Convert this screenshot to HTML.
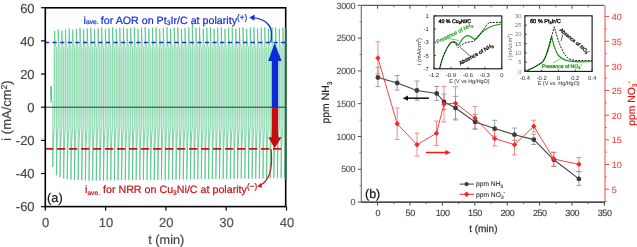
<!DOCTYPE html>
<html><head><meta charset="utf-8"><style>
html,body{margin:0;padding:0;background:#fff;}
svg{display:block;font-family:"Liberation Sans", sans-serif;will-change:transform;text-rendering:geometricPrecision;}
</style></head><body>
<svg width="637" height="247" viewBox="0 0 637 247">
<rect width="637" height="247" fill="#fff"/>
<defs><linearGradient id="bandg" gradientUnits="userSpaceOnUse" x1="0" y1="41.71" x2="0" y2="142.02"><stop offset="0" stop-color="#d6f4e4" stop-opacity="0.2"/><stop offset="0.107" stop-color="#d6f4e4"/><stop offset="0.686" stop-color="#d6f4e4"/><stop offset="1" stop-color="#d6f4e4" stop-opacity="0"/></linearGradient></defs>
<rect x="53" y="41.71" width="232.5" height="100.31" fill="url(#bandg)"/>
<defs><linearGradient id="mg" gradientUnits="userSpaceOnUse" x1="0" y1="0" x2="0" y2="247"><stop offset="0.0000" stop-color="#fff"/><stop offset="0.1655" stop-color="#fff"/><stop offset="0.1991" stop-color="#000"/><stop offset="0.4609" stop-color="#000"/><stop offset="0.5481" stop-color="#fff"/><stop offset="1.0000" stop-color="#fff"/></linearGradient><linearGradient id="mgi" gradientUnits="userSpaceOnUse" x1="0" y1="0" x2="0" y2="247"><stop offset="0.0000" stop-color="#000"/><stop offset="0.1655" stop-color="#000"/><stop offset="0.1991" stop-color="#fff"/><stop offset="0.4609" stop-color="#fff"/><stop offset="0.5481" stop-color="#000"/><stop offset="1.0000" stop-color="#000"/></linearGradient><mask id="mout" maskUnits="userSpaceOnUse" x="0" y="0" width="637" height="247"><rect width="637" height="247" fill="url(#mg)"/></mask><mask id="min" maskUnits="userSpaceOnUse" x="0" y="0" width="637" height="247"><rect width="637" height="247" fill="url(#mgi)"/></mask></defs>
<path d="M51.0,101.40 L51.0,86.48 L51.5,97.25 L52.2,101.40 L52.79,103.06 L52.79,167.05 L53.09,152.75 L53.39,142.84 L53.69,135.97 L54.00,131.21 L54.30,127.91 L54.60,125.63 L54.60,30.93 L54.90,39.68 L55.20,43.81 L55.51,45.76 L55.81,46.69 L56.11,47.12 L56.41,47.33 L56.41,175.34 L56.71,158.50 L57.02,146.82 L57.32,138.73 L57.62,133.12 L57.92,129.24 L58.22,126.54 L58.22,29.68 L58.53,39.09 L58.83,43.53 L59.13,45.63 L59.43,46.62 L59.73,47.09 L60.04,47.31 L60.04,177.09 L60.34,159.71 L60.64,147.66 L60.94,139.31 L61.24,133.53 L61.55,129.52 L61.85,126.74 L61.85,30.67 L62.15,39.56 L62.45,43.75 L62.75,45.74 L63.06,46.67 L63.36,47.12 L63.66,47.32 L63.66,178.27 L63.96,160.52 L64.26,148.23 L64.57,139.70 L64.87,133.80 L65.17,129.71 L65.47,126.87 L65.47,29.57 L65.77,39.04 L66.08,43.51 L66.38,45.62 L66.68,46.62 L66.98,47.09 L67.28,47.31 L67.28,179.05 L67.59,161.07 L67.89,148.60 L68.19,139.97 L68.49,133.98 L68.79,129.83 L69.10,126.96 L69.10,28.58 L69.40,38.57 L69.70,43.29 L70.00,45.52 L70.30,46.57 L70.61,47.07 L70.91,47.30 L70.91,179.58 L71.21,161.43 L71.51,148.86 L71.81,140.14 L72.12,134.10 L72.42,129.92 L72.72,127.01 L72.72,29.77 L73.02,39.13 L73.32,43.55 L73.63,45.64 L73.93,46.63 L74.23,47.09 L74.53,47.31 L74.53,179.93 L74.83,161.68 L75.14,149.03 L75.44,140.26 L75.74,134.18 L76.04,129.97 L76.34,127.05 L76.34,28.82 L76.65,38.68 L76.95,43.34 L77.25,45.54 L77.55,46.58 L77.85,47.07 L78.16,47.30 L78.16,180.17 L78.46,161.84 L78.76,149.14 L79.06,140.34 L79.36,134.24 L79.67,130.01 L79.97,127.08 L79.97,27.98 L80.27,38.29 L80.57,43.15 L80.87,45.45 L81.18,46.54 L81.48,47.05 L81.78,47.30 L81.78,180.33 L82.08,161.95 L82.38,149.22 L82.69,140.39 L82.99,134.27 L83.29,130.03 L83.59,127.10 L83.59,29.29 L83.89,38.90 L84.20,43.45 L84.50,45.59 L84.80,46.60 L85.10,47.08 L85.40,47.31 L85.40,180.43 L85.71,162.03 L86.01,149.27 L86.31,140.43 L86.61,134.30 L86.91,130.05 L87.22,127.11 L87.22,28.40 L87.52,38.48 L87.82,43.25 L88.12,45.50 L88.42,46.56 L88.73,47.06 L89.03,47.30 L89.03,180.50 L89.33,162.07 L89.63,149.30 L89.93,140.45 L90.24,134.31 L90.54,130.06 L90.84,127.12 L90.84,27.66 L91.14,38.13 L91.44,43.08 L91.75,45.42 L92.05,46.52 L92.35,47.05 L92.65,47.29 L92.65,180.52 L92.95,162.08 L93.26,149.31 L93.56,140.45 L93.86,134.32 L94.16,130.07 L94.46,127.12 L94.46,29.02 L94.77,38.78 L95.07,43.39 L95.37,45.56 L95.67,46.59 L95.97,47.08 L96.28,47.31 L96.28,180.50 L96.58,162.07 L96.88,149.30 L97.18,140.45 L97.48,134.31 L97.79,130.06 L98.09,127.12 L98.09,28.16 L98.39,38.37 L98.69,43.19 L98.99,45.47 L99.30,46.55 L99.60,47.06 L99.90,47.30 L99.90,180.48 L100.20,162.06 L100.50,149.29 L100.81,140.44 L101.11,134.31 L101.41,130.06 L101.71,127.11 L101.71,27.48 L102.01,38.05 L102.32,43.04 L102.62,45.40 L102.92,46.51 L103.22,47.04 L103.52,47.29 L103.52,180.45 L103.83,162.03 L104.13,149.27 L104.43,140.43 L104.73,134.30 L105.03,130.05 L105.34,127.11 L105.34,28.88 L105.64,38.71 L105.94,43.35 L106.24,45.55 L106.54,46.58 L106.85,47.07 L107.15,47.30 L107.15,180.41 L107.45,162.01 L107.75,149.26 L108.05,140.42 L108.36,134.29 L108.66,130.05 L108.96,127.11 L108.96,28.03 L109.26,38.31 L109.56,43.16 L109.87,45.46 L110.17,46.54 L110.47,47.05 L110.77,47.30 L110.77,180.37 L111.07,161.98 L111.38,149.24 L111.68,140.40 L111.98,134.28 L112.28,130.04 L112.58,127.10 L112.58,27.39 L112.89,38.01 L113.19,43.02 L113.49,45.39 L113.79,46.51 L114.09,47.04 L114.40,47.29 L114.40,180.33 L114.70,161.95 L115.00,149.22 L115.30,140.39 L115.60,134.27 L115.91,130.03 L116.21,127.10 L116.21,28.80 L116.51,38.67 L116.81,43.34 L117.11,45.54 L117.42,46.58 L117.72,47.07 L118.02,47.30 L118.02,180.28 L118.32,161.92 L118.62,149.19 L118.93,140.38 L119.23,134.26 L119.53,130.03 L119.83,127.09 L119.83,27.95 L120.13,38.27 L120.44,43.15 L120.74,45.45 L121.04,46.54 L121.34,47.05 L121.64,47.29 L121.64,180.24 L121.95,161.89 L122.25,149.17 L122.55,140.36 L122.85,134.25 L123.15,130.02 L123.46,127.09 L123.46,27.34 L123.76,37.99 L124.06,43.01 L124.36,45.39 L124.66,46.51 L124.97,47.04 L125.27,47.29 L125.27,180.19 L125.57,161.86 L125.87,149.15 L126.17,140.35 L126.48,134.24 L126.78,130.01 L127.08,127.08 L127.08,28.76 L127.38,38.66 L127.68,43.33 L127.99,45.54 L128.29,46.58 L128.59,47.07 L128.89,47.30 L128.89,180.14 L129.19,161.83 L129.50,149.13 L129.80,140.33 L130.10,134.23 L130.40,130.01 L130.70,127.08 L130.70,27.90 L131.01,38.25 L131.31,43.13 L131.61,45.44 L131.91,46.54 L132.21,47.05 L132.52,47.29 L132.52,180.10 L132.82,161.79 L133.12,149.11 L133.42,140.31 L133.72,134.22 L134.03,130.00 L134.33,127.07 L134.33,27.32 L134.63,37.98 L134.93,43.01 L135.23,45.38 L135.54,46.51 L135.84,47.04 L136.14,47.29 L136.14,180.05 L136.44,161.76 L136.74,149.08 L137.05,140.30 L137.35,134.21 L137.65,129.99 L137.95,127.07 L137.95,28.74 L138.25,38.65 L138.56,43.32 L138.86,45.53 L139.16,46.58 L139.46,47.07 L139.76,47.30 L139.76,180.01 L140.07,161.73 L140.37,149.06 L140.67,140.28 L140.97,134.20 L141.27,129.98 L141.58,127.06 L141.58,27.86 L141.88,38.23 L142.18,43.13 L142.48,45.44 L142.78,46.53 L143.09,47.05 L143.39,47.29 L143.39,179.96 L143.69,161.70 L143.99,149.04 L144.29,140.27 L144.60,134.19 L144.90,129.98 L145.20,127.06 L145.20,27.31 L145.50,37.97 L145.80,43.01 L146.11,45.38 L146.41,46.51 L146.71,47.04 L147.01,47.29 L147.01,179.91 L147.31,161.66 L147.62,149.02 L147.92,140.25 L148.22,134.18 L148.52,129.97 L148.82,127.05 L148.82,28.73 L149.13,38.64 L149.43,43.32 L149.73,45.53 L150.03,46.58 L150.33,47.07 L150.64,47.30 L150.64,179.87 L150.94,161.63 L151.24,148.99 L151.54,140.24 L151.84,134.17 L152.15,129.96 L152.45,127.05 L152.45,27.84 L152.75,38.22 L153.05,43.12 L153.35,45.44 L153.66,46.53 L153.96,47.05 L154.26,47.29 L154.26,179.82 L154.56,161.60 L154.86,148.97 L155.17,140.22 L155.47,134.16 L155.77,129.95 L156.07,127.04 L156.07,27.31 L156.37,37.97 L156.68,43.01 L156.98,45.38 L157.28,46.51 L157.58,47.04 L157.88,47.29 L157.88,179.77 L158.19,161.57 L158.49,148.95 L158.79,140.21 L159.09,134.15 L159.39,129.95 L159.70,127.04 L159.70,28.73 L160.00,38.64 L160.30,43.32 L160.60,45.53 L160.90,46.58 L161.21,47.07 L161.51,47.30 L161.51,179.72 L161.81,161.53 L162.11,148.93 L162.41,140.19 L162.72,134.14 L163.02,129.94 L163.32,127.03 L163.32,27.82 L163.62,38.21 L163.92,43.12 L164.23,45.44 L164.53,46.53 L164.83,47.05 L165.13,47.29 L165.13,179.68 L165.43,161.50 L165.74,148.90 L166.04,140.17 L166.34,134.12 L166.64,129.93 L166.94,127.03 L166.94,27.32 L167.25,37.97 L167.55,43.01 L167.85,45.38 L168.15,46.51 L168.45,47.04 L168.76,47.29 L168.76,179.63 L169.06,161.47 L169.36,148.88 L169.66,140.16 L169.96,134.11 L170.27,129.92 L170.57,127.02 L170.57,28.73 L170.87,38.64 L171.17,43.32 L171.47,45.53 L171.78,46.58 L172.08,47.07 L172.38,47.30 L172.38,179.58 L172.68,161.44 L172.98,148.86 L173.29,140.14 L173.59,134.10 L173.89,129.92 L174.19,127.01 L174.19,27.80 L174.49,38.20 L174.80,43.11 L175.10,45.43 L175.40,46.53 L175.70,47.05 L176.00,47.29 L176.00,179.54 L176.31,161.40 L176.61,148.84 L176.91,140.13 L177.21,134.09 L177.51,129.91 L177.82,127.01 L177.82,27.32 L178.12,37.98 L178.42,43.01 L178.72,45.38 L179.02,46.51 L179.33,47.04 L179.63,47.29 L179.63,179.49 L179.93,161.37 L180.23,148.81 L180.53,140.11 L180.84,134.08 L181.14,129.90 L181.44,127.00 L181.44,28.74 L181.74,38.64 L182.04,43.32 L182.35,45.53 L182.65,46.58 L182.95,47.07 L183.25,47.30 L183.25,179.44 L183.55,161.34 L183.86,148.79 L184.16,140.10 L184.46,134.07 L184.76,129.89 L185.06,127.00 L185.06,27.78 L185.37,38.19 L185.67,43.11 L185.97,45.43 L186.27,46.53 L186.57,47.05 L186.88,47.29 L186.88,179.40 L187.18,161.31 L187.48,148.77 L187.78,140.08 L188.08,134.06 L188.39,129.89 L188.69,126.99 L188.69,27.33 L188.99,37.98 L189.29,43.01 L189.59,45.39 L189.90,46.51 L190.20,47.04 L190.50,47.29 L190.50,179.35 L190.80,161.27 L191.10,148.75 L191.41,140.07 L191.71,134.05 L192.01,129.88 L192.31,126.99 L192.31,22.97 L192.61,35.92 L192.92,42.04 L193.22,44.93 L193.52,46.29 L193.82,46.93 L194.12,47.24 L194.12,179.30 L194.43,161.24 L194.73,148.72 L195.03,140.05 L195.33,134.04 L195.63,129.87 L195.94,126.98 L195.94,27.77 L196.24,38.19 L196.54,43.11 L196.84,45.43 L197.14,46.53 L197.45,47.05 L197.75,47.29 L197.75,179.26 L198.05,161.21 L198.35,148.70 L198.65,140.03 L198.96,134.03 L199.26,129.86 L199.56,126.98 L199.56,27.34 L199.86,37.98 L200.16,43.01 L200.47,45.39 L200.77,46.51 L201.07,47.04 L201.37,47.29 L201.37,179.21 L201.67,161.18 L201.98,148.68 L202.28,140.02 L202.58,134.02 L202.88,129.86 L203.18,126.97 L203.18,28.74 L203.49,38.65 L203.79,43.32 L204.09,45.53 L204.39,46.58 L204.69,47.07 L205.00,47.30 L205.00,179.16 L205.30,161.14 L205.60,148.66 L205.90,140.00 L206.20,134.01 L206.51,129.85 L206.81,126.97 L206.81,27.75 L207.11,38.18 L207.41,43.10 L207.71,45.43 L208.02,46.53 L208.32,47.05 L208.62,47.29 L208.62,179.12 L208.92,161.11 L209.22,148.63 L209.53,139.99 L209.83,133.99 L210.13,129.84 L210.43,126.96 L210.43,27.35 L210.73,37.99 L211.04,43.01 L211.34,45.39 L211.64,46.51 L211.94,47.04 L212.24,47.29 L212.24,179.07 L212.55,161.08 L212.85,148.61 L213.15,139.97 L213.45,133.98 L213.75,129.83 L214.06,126.96 L214.06,28.75 L214.36,38.65 L214.66,43.32 L214.96,45.53 L215.26,46.58 L215.57,47.07 L215.87,47.30 L215.87,179.02 L216.17,161.05 L216.47,148.59 L216.77,139.96 L217.08,133.97 L217.38,129.83 L217.68,126.95 L217.68,27.74 L217.98,38.17 L218.28,43.10 L218.59,45.43 L218.89,46.53 L219.19,47.05 L219.49,47.29 L219.49,178.97 L219.79,161.01 L220.10,148.57 L220.40,139.94 L220.70,133.96 L221.00,129.82 L221.30,126.95 L221.30,27.36 L221.61,37.99 L221.91,43.02 L222.21,45.39 L222.51,46.51 L222.81,47.04 L223.12,47.29 L223.12,178.93 L223.42,160.98 L223.72,148.54 L224.02,139.92 L224.32,133.95 L224.63,129.81 L224.93,126.94 L224.93,28.75 L225.23,38.65 L225.53,43.33 L225.83,45.53 L226.14,46.58 L226.44,47.07 L226.74,47.30 L226.74,178.88 L227.04,160.95 L227.34,148.52 L227.65,139.91 L227.95,133.94 L228.25,129.80 L228.55,126.94 L228.55,27.73 L228.85,38.17 L229.16,43.10 L229.46,45.43 L229.76,46.53 L230.06,47.05 L230.36,47.29 L230.36,178.83 L230.67,160.92 L230.97,148.50 L231.27,139.89 L231.57,133.93 L231.87,129.80 L232.18,126.93 L232.18,27.37 L232.48,38.00 L232.78,43.02 L233.08,45.39 L233.38,46.51 L233.69,47.04 L233.99,47.29 L233.99,178.79 L234.29,160.88 L234.59,148.48 L234.89,139.88 L235.20,133.92 L235.50,129.79 L235.80,126.93 L235.80,28.75 L236.10,38.65 L236.40,43.33 L236.71,45.53 L237.01,46.58 L237.31,47.07 L237.61,47.30 L237.61,178.74 L237.91,160.85 L238.22,148.45 L238.52,139.86 L238.82,133.91 L239.12,129.78 L239.42,126.92 L239.42,27.71 L239.73,38.16 L240.03,43.09 L240.33,45.43 L240.63,46.53 L240.93,47.05 L241.24,47.29 L241.24,178.69 L241.54,160.82 L241.84,148.43 L242.14,139.85 L242.44,133.90 L242.75,129.77 L243.05,126.92 L243.05,27.38 L243.35,38.00 L243.65,43.02 L243.95,45.39 L244.26,46.51 L244.56,47.04 L244.86,47.29 L244.86,178.65 L245.16,160.79 L245.46,148.41 L245.77,139.83 L246.07,133.89 L246.37,129.77 L246.67,126.91 L246.67,28.76 L246.97,38.65 L247.28,43.33 L247.58,45.54 L247.88,46.58 L248.18,47.07 L248.48,47.30 L248.48,178.60 L248.79,160.75 L249.09,148.39 L249.39,139.82 L249.69,133.88 L249.99,129.76 L250.30,126.91 L250.30,27.70 L250.60,38.15 L250.90,43.09 L251.20,45.42 L251.50,46.53 L251.81,47.05 L252.11,47.29 L252.11,178.55 L252.41,160.72 L252.71,148.36 L253.01,139.80 L253.32,133.86 L253.62,129.75 L253.92,126.90 L253.92,27.39 L254.22,38.01 L254.52,43.02 L254.83,45.39 L255.13,46.51 L255.43,47.04 L255.73,47.29 L255.73,178.51 L256.03,160.69 L256.34,148.34 L256.64,139.78 L256.94,133.85 L257.24,129.74 L257.54,126.90 L257.54,28.76 L257.85,38.65 L258.15,43.33 L258.45,45.54 L258.75,46.58 L259.05,47.07 L259.36,47.30 L259.36,178.46 L259.66,160.66 L259.96,148.32 L260.26,139.77 L260.56,133.84 L260.87,129.74 L261.17,126.89 L261.17,27.69 L261.47,38.15 L261.77,43.09 L262.07,45.42 L262.38,46.52 L262.68,47.05 L262.98,47.29 L262.98,178.41 L263.28,160.62 L263.58,148.30 L263.89,139.75 L264.19,133.83 L264.49,129.73 L264.79,126.88 L264.79,27.40 L265.09,38.01 L265.40,43.02 L265.70,45.39 L266.00,46.51 L266.30,47.04 L266.60,47.29 L266.60,178.37 L266.91,160.59 L267.21,148.27 L267.51,139.74 L267.81,133.82 L268.11,129.72 L268.42,126.88 L268.42,28.76 L268.72,38.65 L269.02,43.33 L269.32,45.54 L269.62,46.58 L269.93,47.07 L270.23,47.30 L270.23,178.32 L270.53,160.56 L270.83,148.25 L271.13,139.72 L271.44,133.81 L271.74,129.71 L272.04,126.87 L272.04,27.67 L272.34,38.14 L272.64,43.09 L272.95,45.42 L273.25,46.52 L273.55,47.05 L273.85,47.29 L273.85,178.27 L274.15,160.53 L274.46,148.23 L274.76,139.71 L275.06,133.80 L275.36,129.71 L275.66,126.87 L275.66,27.41 L275.97,38.02 L276.27,43.03 L276.57,45.39 L276.87,46.51 L277.17,47.04 L277.48,47.29 L277.48,178.22 L277.78,160.49 L278.08,148.21 L278.38,139.69 L278.68,133.79 L278.99,129.70 L279.29,126.86 L279.29,28.76 L279.59,38.66 L279.89,43.33 L280.19,45.54 L280.50,46.58 L280.80,47.07 L281.10,47.30 L281.10,178.18 L281.40,160.46 L281.70,148.18 L282.01,139.68 L282.31,133.78 L282.61,129.69 L282.91,126.86 L282.91,27.66 L283.21,38.14 L283.52,43.08 L283.82,45.42 L284.12,46.52 L284.42,47.05 L284.72,47.29 L284.72,178.13 L285.03,160.43 L285.33,148.16 L285.50,139.66 L285.50,133.77 L285.50,129.68 L285.50,126.85" fill="none" stroke="#2fb56c" stroke-width="0.6" stroke-opacity="0.8" mask="url(#min)"/>
<path d="M51.0,101.40 L51.0,86.48 L51.5,97.25 L52.2,101.40 L52.79,103.06 L52.79,167.05 L53.09,152.75 L53.39,142.84 L53.69,135.97 L54.00,131.21 L54.30,127.91 L54.60,125.63 L54.60,30.93 L54.90,39.68 L55.20,43.81 L55.51,45.76 L55.81,46.69 L56.11,47.12 L56.41,47.33 L56.41,175.34 L56.71,158.50 L57.02,146.82 L57.32,138.73 L57.62,133.12 L57.92,129.24 L58.22,126.54 L58.22,29.68 L58.53,39.09 L58.83,43.53 L59.13,45.63 L59.43,46.62 L59.73,47.09 L60.04,47.31 L60.04,177.09 L60.34,159.71 L60.64,147.66 L60.94,139.31 L61.24,133.53 L61.55,129.52 L61.85,126.74 L61.85,30.67 L62.15,39.56 L62.45,43.75 L62.75,45.74 L63.06,46.67 L63.36,47.12 L63.66,47.32 L63.66,178.27 L63.96,160.52 L64.26,148.23 L64.57,139.70 L64.87,133.80 L65.17,129.71 L65.47,126.87 L65.47,29.57 L65.77,39.04 L66.08,43.51 L66.38,45.62 L66.68,46.62 L66.98,47.09 L67.28,47.31 L67.28,179.05 L67.59,161.07 L67.89,148.60 L68.19,139.97 L68.49,133.98 L68.79,129.83 L69.10,126.96 L69.10,28.58 L69.40,38.57 L69.70,43.29 L70.00,45.52 L70.30,46.57 L70.61,47.07 L70.91,47.30 L70.91,179.58 L71.21,161.43 L71.51,148.86 L71.81,140.14 L72.12,134.10 L72.42,129.92 L72.72,127.01 L72.72,29.77 L73.02,39.13 L73.32,43.55 L73.63,45.64 L73.93,46.63 L74.23,47.09 L74.53,47.31 L74.53,179.93 L74.83,161.68 L75.14,149.03 L75.44,140.26 L75.74,134.18 L76.04,129.97 L76.34,127.05 L76.34,28.82 L76.65,38.68 L76.95,43.34 L77.25,45.54 L77.55,46.58 L77.85,47.07 L78.16,47.30 L78.16,180.17 L78.46,161.84 L78.76,149.14 L79.06,140.34 L79.36,134.24 L79.67,130.01 L79.97,127.08 L79.97,27.98 L80.27,38.29 L80.57,43.15 L80.87,45.45 L81.18,46.54 L81.48,47.05 L81.78,47.30 L81.78,180.33 L82.08,161.95 L82.38,149.22 L82.69,140.39 L82.99,134.27 L83.29,130.03 L83.59,127.10 L83.59,29.29 L83.89,38.90 L84.20,43.45 L84.50,45.59 L84.80,46.60 L85.10,47.08 L85.40,47.31 L85.40,180.43 L85.71,162.03 L86.01,149.27 L86.31,140.43 L86.61,134.30 L86.91,130.05 L87.22,127.11 L87.22,28.40 L87.52,38.48 L87.82,43.25 L88.12,45.50 L88.42,46.56 L88.73,47.06 L89.03,47.30 L89.03,180.50 L89.33,162.07 L89.63,149.30 L89.93,140.45 L90.24,134.31 L90.54,130.06 L90.84,127.12 L90.84,27.66 L91.14,38.13 L91.44,43.08 L91.75,45.42 L92.05,46.52 L92.35,47.05 L92.65,47.29 L92.65,180.52 L92.95,162.08 L93.26,149.31 L93.56,140.45 L93.86,134.32 L94.16,130.07 L94.46,127.12 L94.46,29.02 L94.77,38.78 L95.07,43.39 L95.37,45.56 L95.67,46.59 L95.97,47.08 L96.28,47.31 L96.28,180.50 L96.58,162.07 L96.88,149.30 L97.18,140.45 L97.48,134.31 L97.79,130.06 L98.09,127.12 L98.09,28.16 L98.39,38.37 L98.69,43.19 L98.99,45.47 L99.30,46.55 L99.60,47.06 L99.90,47.30 L99.90,180.48 L100.20,162.06 L100.50,149.29 L100.81,140.44 L101.11,134.31 L101.41,130.06 L101.71,127.11 L101.71,27.48 L102.01,38.05 L102.32,43.04 L102.62,45.40 L102.92,46.51 L103.22,47.04 L103.52,47.29 L103.52,180.45 L103.83,162.03 L104.13,149.27 L104.43,140.43 L104.73,134.30 L105.03,130.05 L105.34,127.11 L105.34,28.88 L105.64,38.71 L105.94,43.35 L106.24,45.55 L106.54,46.58 L106.85,47.07 L107.15,47.30 L107.15,180.41 L107.45,162.01 L107.75,149.26 L108.05,140.42 L108.36,134.29 L108.66,130.05 L108.96,127.11 L108.96,28.03 L109.26,38.31 L109.56,43.16 L109.87,45.46 L110.17,46.54 L110.47,47.05 L110.77,47.30 L110.77,180.37 L111.07,161.98 L111.38,149.24 L111.68,140.40 L111.98,134.28 L112.28,130.04 L112.58,127.10 L112.58,27.39 L112.89,38.01 L113.19,43.02 L113.49,45.39 L113.79,46.51 L114.09,47.04 L114.40,47.29 L114.40,180.33 L114.70,161.95 L115.00,149.22 L115.30,140.39 L115.60,134.27 L115.91,130.03 L116.21,127.10 L116.21,28.80 L116.51,38.67 L116.81,43.34 L117.11,45.54 L117.42,46.58 L117.72,47.07 L118.02,47.30 L118.02,180.28 L118.32,161.92 L118.62,149.19 L118.93,140.38 L119.23,134.26 L119.53,130.03 L119.83,127.09 L119.83,27.95 L120.13,38.27 L120.44,43.15 L120.74,45.45 L121.04,46.54 L121.34,47.05 L121.64,47.29 L121.64,180.24 L121.95,161.89 L122.25,149.17 L122.55,140.36 L122.85,134.25 L123.15,130.02 L123.46,127.09 L123.46,27.34 L123.76,37.99 L124.06,43.01 L124.36,45.39 L124.66,46.51 L124.97,47.04 L125.27,47.29 L125.27,180.19 L125.57,161.86 L125.87,149.15 L126.17,140.35 L126.48,134.24 L126.78,130.01 L127.08,127.08 L127.08,28.76 L127.38,38.66 L127.68,43.33 L127.99,45.54 L128.29,46.58 L128.59,47.07 L128.89,47.30 L128.89,180.14 L129.19,161.83 L129.50,149.13 L129.80,140.33 L130.10,134.23 L130.40,130.01 L130.70,127.08 L130.70,27.90 L131.01,38.25 L131.31,43.13 L131.61,45.44 L131.91,46.54 L132.21,47.05 L132.52,47.29 L132.52,180.10 L132.82,161.79 L133.12,149.11 L133.42,140.31 L133.72,134.22 L134.03,130.00 L134.33,127.07 L134.33,27.32 L134.63,37.98 L134.93,43.01 L135.23,45.38 L135.54,46.51 L135.84,47.04 L136.14,47.29 L136.14,180.05 L136.44,161.76 L136.74,149.08 L137.05,140.30 L137.35,134.21 L137.65,129.99 L137.95,127.07 L137.95,28.74 L138.25,38.65 L138.56,43.32 L138.86,45.53 L139.16,46.58 L139.46,47.07 L139.76,47.30 L139.76,180.01 L140.07,161.73 L140.37,149.06 L140.67,140.28 L140.97,134.20 L141.27,129.98 L141.58,127.06 L141.58,27.86 L141.88,38.23 L142.18,43.13 L142.48,45.44 L142.78,46.53 L143.09,47.05 L143.39,47.29 L143.39,179.96 L143.69,161.70 L143.99,149.04 L144.29,140.27 L144.60,134.19 L144.90,129.98 L145.20,127.06 L145.20,27.31 L145.50,37.97 L145.80,43.01 L146.11,45.38 L146.41,46.51 L146.71,47.04 L147.01,47.29 L147.01,179.91 L147.31,161.66 L147.62,149.02 L147.92,140.25 L148.22,134.18 L148.52,129.97 L148.82,127.05 L148.82,28.73 L149.13,38.64 L149.43,43.32 L149.73,45.53 L150.03,46.58 L150.33,47.07 L150.64,47.30 L150.64,179.87 L150.94,161.63 L151.24,148.99 L151.54,140.24 L151.84,134.17 L152.15,129.96 L152.45,127.05 L152.45,27.84 L152.75,38.22 L153.05,43.12 L153.35,45.44 L153.66,46.53 L153.96,47.05 L154.26,47.29 L154.26,179.82 L154.56,161.60 L154.86,148.97 L155.17,140.22 L155.47,134.16 L155.77,129.95 L156.07,127.04 L156.07,27.31 L156.37,37.97 L156.68,43.01 L156.98,45.38 L157.28,46.51 L157.58,47.04 L157.88,47.29 L157.88,179.77 L158.19,161.57 L158.49,148.95 L158.79,140.21 L159.09,134.15 L159.39,129.95 L159.70,127.04 L159.70,28.73 L160.00,38.64 L160.30,43.32 L160.60,45.53 L160.90,46.58 L161.21,47.07 L161.51,47.30 L161.51,179.72 L161.81,161.53 L162.11,148.93 L162.41,140.19 L162.72,134.14 L163.02,129.94 L163.32,127.03 L163.32,27.82 L163.62,38.21 L163.92,43.12 L164.23,45.44 L164.53,46.53 L164.83,47.05 L165.13,47.29 L165.13,179.68 L165.43,161.50 L165.74,148.90 L166.04,140.17 L166.34,134.12 L166.64,129.93 L166.94,127.03 L166.94,27.32 L167.25,37.97 L167.55,43.01 L167.85,45.38 L168.15,46.51 L168.45,47.04 L168.76,47.29 L168.76,179.63 L169.06,161.47 L169.36,148.88 L169.66,140.16 L169.96,134.11 L170.27,129.92 L170.57,127.02 L170.57,28.73 L170.87,38.64 L171.17,43.32 L171.47,45.53 L171.78,46.58 L172.08,47.07 L172.38,47.30 L172.38,179.58 L172.68,161.44 L172.98,148.86 L173.29,140.14 L173.59,134.10 L173.89,129.92 L174.19,127.01 L174.19,27.80 L174.49,38.20 L174.80,43.11 L175.10,45.43 L175.40,46.53 L175.70,47.05 L176.00,47.29 L176.00,179.54 L176.31,161.40 L176.61,148.84 L176.91,140.13 L177.21,134.09 L177.51,129.91 L177.82,127.01 L177.82,27.32 L178.12,37.98 L178.42,43.01 L178.72,45.38 L179.02,46.51 L179.33,47.04 L179.63,47.29 L179.63,179.49 L179.93,161.37 L180.23,148.81 L180.53,140.11 L180.84,134.08 L181.14,129.90 L181.44,127.00 L181.44,28.74 L181.74,38.64 L182.04,43.32 L182.35,45.53 L182.65,46.58 L182.95,47.07 L183.25,47.30 L183.25,179.44 L183.55,161.34 L183.86,148.79 L184.16,140.10 L184.46,134.07 L184.76,129.89 L185.06,127.00 L185.06,27.78 L185.37,38.19 L185.67,43.11 L185.97,45.43 L186.27,46.53 L186.57,47.05 L186.88,47.29 L186.88,179.40 L187.18,161.31 L187.48,148.77 L187.78,140.08 L188.08,134.06 L188.39,129.89 L188.69,126.99 L188.69,27.33 L188.99,37.98 L189.29,43.01 L189.59,45.39 L189.90,46.51 L190.20,47.04 L190.50,47.29 L190.50,179.35 L190.80,161.27 L191.10,148.75 L191.41,140.07 L191.71,134.05 L192.01,129.88 L192.31,126.99 L192.31,22.97 L192.61,35.92 L192.92,42.04 L193.22,44.93 L193.52,46.29 L193.82,46.93 L194.12,47.24 L194.12,179.30 L194.43,161.24 L194.73,148.72 L195.03,140.05 L195.33,134.04 L195.63,129.87 L195.94,126.98 L195.94,27.77 L196.24,38.19 L196.54,43.11 L196.84,45.43 L197.14,46.53 L197.45,47.05 L197.75,47.29 L197.75,179.26 L198.05,161.21 L198.35,148.70 L198.65,140.03 L198.96,134.03 L199.26,129.86 L199.56,126.98 L199.56,27.34 L199.86,37.98 L200.16,43.01 L200.47,45.39 L200.77,46.51 L201.07,47.04 L201.37,47.29 L201.37,179.21 L201.67,161.18 L201.98,148.68 L202.28,140.02 L202.58,134.02 L202.88,129.86 L203.18,126.97 L203.18,28.74 L203.49,38.65 L203.79,43.32 L204.09,45.53 L204.39,46.58 L204.69,47.07 L205.00,47.30 L205.00,179.16 L205.30,161.14 L205.60,148.66 L205.90,140.00 L206.20,134.01 L206.51,129.85 L206.81,126.97 L206.81,27.75 L207.11,38.18 L207.41,43.10 L207.71,45.43 L208.02,46.53 L208.32,47.05 L208.62,47.29 L208.62,179.12 L208.92,161.11 L209.22,148.63 L209.53,139.99 L209.83,133.99 L210.13,129.84 L210.43,126.96 L210.43,27.35 L210.73,37.99 L211.04,43.01 L211.34,45.39 L211.64,46.51 L211.94,47.04 L212.24,47.29 L212.24,179.07 L212.55,161.08 L212.85,148.61 L213.15,139.97 L213.45,133.98 L213.75,129.83 L214.06,126.96 L214.06,28.75 L214.36,38.65 L214.66,43.32 L214.96,45.53 L215.26,46.58 L215.57,47.07 L215.87,47.30 L215.87,179.02 L216.17,161.05 L216.47,148.59 L216.77,139.96 L217.08,133.97 L217.38,129.83 L217.68,126.95 L217.68,27.74 L217.98,38.17 L218.28,43.10 L218.59,45.43 L218.89,46.53 L219.19,47.05 L219.49,47.29 L219.49,178.97 L219.79,161.01 L220.10,148.57 L220.40,139.94 L220.70,133.96 L221.00,129.82 L221.30,126.95 L221.30,27.36 L221.61,37.99 L221.91,43.02 L222.21,45.39 L222.51,46.51 L222.81,47.04 L223.12,47.29 L223.12,178.93 L223.42,160.98 L223.72,148.54 L224.02,139.92 L224.32,133.95 L224.63,129.81 L224.93,126.94 L224.93,28.75 L225.23,38.65 L225.53,43.33 L225.83,45.53 L226.14,46.58 L226.44,47.07 L226.74,47.30 L226.74,178.88 L227.04,160.95 L227.34,148.52 L227.65,139.91 L227.95,133.94 L228.25,129.80 L228.55,126.94 L228.55,27.73 L228.85,38.17 L229.16,43.10 L229.46,45.43 L229.76,46.53 L230.06,47.05 L230.36,47.29 L230.36,178.83 L230.67,160.92 L230.97,148.50 L231.27,139.89 L231.57,133.93 L231.87,129.80 L232.18,126.93 L232.18,27.37 L232.48,38.00 L232.78,43.02 L233.08,45.39 L233.38,46.51 L233.69,47.04 L233.99,47.29 L233.99,178.79 L234.29,160.88 L234.59,148.48 L234.89,139.88 L235.20,133.92 L235.50,129.79 L235.80,126.93 L235.80,28.75 L236.10,38.65 L236.40,43.33 L236.71,45.53 L237.01,46.58 L237.31,47.07 L237.61,47.30 L237.61,178.74 L237.91,160.85 L238.22,148.45 L238.52,139.86 L238.82,133.91 L239.12,129.78 L239.42,126.92 L239.42,27.71 L239.73,38.16 L240.03,43.09 L240.33,45.43 L240.63,46.53 L240.93,47.05 L241.24,47.29 L241.24,178.69 L241.54,160.82 L241.84,148.43 L242.14,139.85 L242.44,133.90 L242.75,129.77 L243.05,126.92 L243.05,27.38 L243.35,38.00 L243.65,43.02 L243.95,45.39 L244.26,46.51 L244.56,47.04 L244.86,47.29 L244.86,178.65 L245.16,160.79 L245.46,148.41 L245.77,139.83 L246.07,133.89 L246.37,129.77 L246.67,126.91 L246.67,28.76 L246.97,38.65 L247.28,43.33 L247.58,45.54 L247.88,46.58 L248.18,47.07 L248.48,47.30 L248.48,178.60 L248.79,160.75 L249.09,148.39 L249.39,139.82 L249.69,133.88 L249.99,129.76 L250.30,126.91 L250.30,27.70 L250.60,38.15 L250.90,43.09 L251.20,45.42 L251.50,46.53 L251.81,47.05 L252.11,47.29 L252.11,178.55 L252.41,160.72 L252.71,148.36 L253.01,139.80 L253.32,133.86 L253.62,129.75 L253.92,126.90 L253.92,27.39 L254.22,38.01 L254.52,43.02 L254.83,45.39 L255.13,46.51 L255.43,47.04 L255.73,47.29 L255.73,178.51 L256.03,160.69 L256.34,148.34 L256.64,139.78 L256.94,133.85 L257.24,129.74 L257.54,126.90 L257.54,28.76 L257.85,38.65 L258.15,43.33 L258.45,45.54 L258.75,46.58 L259.05,47.07 L259.36,47.30 L259.36,178.46 L259.66,160.66 L259.96,148.32 L260.26,139.77 L260.56,133.84 L260.87,129.74 L261.17,126.89 L261.17,27.69 L261.47,38.15 L261.77,43.09 L262.07,45.42 L262.38,46.52 L262.68,47.05 L262.98,47.29 L262.98,178.41 L263.28,160.62 L263.58,148.30 L263.89,139.75 L264.19,133.83 L264.49,129.73 L264.79,126.88 L264.79,27.40 L265.09,38.01 L265.40,43.02 L265.70,45.39 L266.00,46.51 L266.30,47.04 L266.60,47.29 L266.60,178.37 L266.91,160.59 L267.21,148.27 L267.51,139.74 L267.81,133.82 L268.11,129.72 L268.42,126.88 L268.42,28.76 L268.72,38.65 L269.02,43.33 L269.32,45.54 L269.62,46.58 L269.93,47.07 L270.23,47.30 L270.23,178.32 L270.53,160.56 L270.83,148.25 L271.13,139.72 L271.44,133.81 L271.74,129.71 L272.04,126.87 L272.04,27.67 L272.34,38.14 L272.64,43.09 L272.95,45.42 L273.25,46.52 L273.55,47.05 L273.85,47.29 L273.85,178.27 L274.15,160.53 L274.46,148.23 L274.76,139.71 L275.06,133.80 L275.36,129.71 L275.66,126.87 L275.66,27.41 L275.97,38.02 L276.27,43.03 L276.57,45.39 L276.87,46.51 L277.17,47.04 L277.48,47.29 L277.48,178.22 L277.78,160.49 L278.08,148.21 L278.38,139.69 L278.68,133.79 L278.99,129.70 L279.29,126.86 L279.29,28.76 L279.59,38.66 L279.89,43.33 L280.19,45.54 L280.50,46.58 L280.80,47.07 L281.10,47.30 L281.10,178.18 L281.40,160.46 L281.70,148.18 L282.01,139.68 L282.31,133.78 L282.61,129.69 L282.91,126.86 L282.91,27.66 L283.21,38.14 L283.52,43.08 L283.82,45.42 L284.12,46.52 L284.42,47.05 L284.72,47.29 L284.72,178.13 L285.03,160.43 L285.33,148.16 L285.50,139.66 L285.50,133.77 L285.50,129.68 L285.50,126.85" fill="none" stroke="#3cbf78" stroke-width="0.72" stroke-opacity="0.95" mask="url(#mout)"/>
<line x1="45.3" y1="107.2" x2="285.7" y2="107.2" stroke="#333" stroke-width="1"/>
<line x1="44.9" y1="42.5" x2="285.7" y2="42.5" stroke="#1533d0" stroke-width="1.6" stroke-dasharray="4.2 3.42"/>
<line x1="45.0" y1="148.8" x2="285.7" y2="148.8" stroke="#c8141e" stroke-width="1.7" stroke-dasharray="8.3 3.7"/>
<polygon points="271.8,108 278.2,108 278.2,61 281.6,61 274.6,42.9 268.3,61 271.8,61" fill="#0a2bd6"/>
<polygon points="271.8,107.5 278.2,107.5 278.2,137.3 281.6,137.3 274.6,148.2 268.3,137.3 271.8,137.3" fill="#c80d10"/>
<path d="M270.8,42.5 C271.8,36 272.2,30 269.5,26 C266,20.5 260,18.2 252.5,17.6" fill="none" stroke="#1533d0" stroke-width="1.4"/>
<polygon points="249.3,17.6 254.8,14.6 254.3,20.8" fill="#1533d0"/>
<path d="M271,149 C272.5,162 272,180 259,186" fill="none" stroke="#c8141e" stroke-width="1.2"/>
<polygon points="257.2,186.6 261,183 262,187.8" fill="#c8141e"/>
<rect x="45.3" y="7.8" width="240.39999999999998" height="198.79999999999998" fill="none" stroke="#000" stroke-width="1.6"/>
<line x1="285.7" y1="27.5" x2="285.7" y2="179.5" stroke="#1f7040" stroke-width="1.6"/>
<path d="M51.0,103.06 L51.0,86.48 L51.6,98.91" fill="none" stroke="#3cbf78" stroke-width="0.8"/>
<line x1="41" y1="206.68" x2="45.3" y2="206.68" stroke="#000" stroke-width="1.2"/>
<text x="34.6" y="211.48" text-anchor="end" font-size="13" fill="#4a4a4a" stroke="#4a4a4a" stroke-width="0.2">-60</text>
<line x1="41" y1="173.52" x2="45.3" y2="173.52" stroke="#000" stroke-width="1.2"/>
<text x="34.6" y="178.32" text-anchor="end" font-size="13" fill="#4a4a4a" stroke="#4a4a4a" stroke-width="0.2">-40</text>
<line x1="41" y1="140.36" x2="45.3" y2="140.36" stroke="#000" stroke-width="1.2"/>
<text x="34.6" y="145.16" text-anchor="end" font-size="13" fill="#4a4a4a" stroke="#4a4a4a" stroke-width="0.2">-20</text>
<line x1="41" y1="107.20" x2="45.3" y2="107.20" stroke="#000" stroke-width="1.2"/>
<text x="34.6" y="112.00" text-anchor="end" font-size="13" fill="#4a4a4a" stroke="#4a4a4a" stroke-width="0.2">0</text>
<line x1="41" y1="74.04" x2="45.3" y2="74.04" stroke="#000" stroke-width="1.2"/>
<text x="34.6" y="78.84" text-anchor="end" font-size="13" fill="#4a4a4a" stroke="#4a4a4a" stroke-width="0.2">20</text>
<line x1="41" y1="40.88" x2="45.3" y2="40.88" stroke="#000" stroke-width="1.2"/>
<text x="34.6" y="45.68" text-anchor="end" font-size="13" fill="#4a4a4a" stroke="#4a4a4a" stroke-width="0.2">40</text>
<line x1="41" y1="7.72" x2="45.3" y2="7.72" stroke="#000" stroke-width="1.2"/>
<text x="34.6" y="12.52" text-anchor="end" font-size="13" fill="#4a4a4a" stroke="#4a4a4a" stroke-width="0.2">60</text>
<line x1="45.30" y1="206.6" x2="45.30" y2="210.5" stroke="#000" stroke-width="1.2"/>
<text x="45.70" y="226.6" text-anchor="middle" font-size="13" fill="#555" stroke="#555" stroke-width="0.2">0</text>
<line x1="105.60" y1="206.6" x2="105.60" y2="210.5" stroke="#000" stroke-width="1.2"/>
<text x="106.00" y="226.6" text-anchor="middle" font-size="13" fill="#555" stroke="#555" stroke-width="0.2">10</text>
<line x1="165.90" y1="206.6" x2="165.90" y2="210.5" stroke="#000" stroke-width="1.2"/>
<text x="166.30" y="226.6" text-anchor="middle" font-size="13" fill="#555" stroke="#555" stroke-width="0.2">20</text>
<line x1="226.20" y1="206.6" x2="226.20" y2="210.5" stroke="#000" stroke-width="1.2"/>
<text x="226.60" y="226.6" text-anchor="middle" font-size="13" fill="#555" stroke="#555" stroke-width="0.2">30</text>
<line x1="286.50" y1="206.6" x2="286.50" y2="210.5" stroke="#000" stroke-width="1.2"/>
<text x="286.90" y="226.6" text-anchor="middle" font-size="13" fill="#555" stroke="#555" stroke-width="0.2">40</text>
<text x="166.3" y="243.5" text-anchor="middle" font-size="12.7" fill="#444" stroke="#444" stroke-width="0.2">t (min)</text>
<text transform="translate(11.2,110.5) rotate(-90)" text-anchor="middle" font-size="13" fill="#444" stroke="#444" stroke-width="0.2">i (mA/cm<tspan dy="-4" font-size="8.5">2</tspan><tspan dy="4">)</tspan></text>
<text x="47" y="201.5" font-size="12.8" fill="#111" stroke="#111" stroke-width="0.2">(a)</text>
<text x="83.6" y="23.5" font-size="10.7" fill="#1533d0" stroke="#1533d0" stroke-width="0.22">i<tspan font-size="6.7" dy="0.6">ave.</tspan><tspan dy="-0.6" dx="-0.8"> for AOR on Pt</tspan><tspan font-size="6.7" dy="1.5">3</tspan><tspan dy="-1.5">Ir/C at polarity</tspan><tspan font-size="8.2" dy="-3.8">(+)</tspan></text>
<text x="85.0" y="192.5" font-size="10.7" fill="#c8141e" stroke="#c8141e" stroke-width="0.22">i<tspan font-size="6.7" dy="2.2">ave.</tspan><tspan dy="-2.2"> for NRR on Cu</tspan><tspan font-size="6.7" dy="2.4">3</tspan><tspan dy="-2.4">Ni/C at polarity</tspan><tspan font-size="8.2" dy="-3.8">(−)</tspan></text>
<line x1="361.3" y1="5.3" x2="604.4" y2="5.3" stroke="#333" stroke-width="1"/>
<line x1="361.3" y1="5.3" x2="361.3" y2="202.1" stroke="#666" stroke-width="1.1"/>
<line x1="361.3" y1="202.1" x2="605.0" y2="202.1" stroke="#111" stroke-width="1.1"/>
<line x1="605.0" y1="5.3" x2="605.0" y2="202.1" stroke="#f04848" stroke-width="1"/>
<line x1="357.8" y1="202.05" x2="361.3" y2="202.05" stroke="#555" stroke-width="1"/>
<text x="355" y="205.25" text-anchor="end" font-size="9" fill="#555" letter-spacing="-0.4" stroke="#555" stroke-width="0.12">0</text>
<line x1="359.5" y1="185.66" x2="361.3" y2="185.66" stroke="#666" stroke-width="0.8"/>
<line x1="357.8" y1="169.27" x2="361.3" y2="169.27" stroke="#555" stroke-width="1"/>
<text x="355" y="172.47" text-anchor="end" font-size="9" fill="#555" letter-spacing="-0.4" stroke="#555" stroke-width="0.12">500</text>
<line x1="359.5" y1="152.87" x2="361.3" y2="152.87" stroke="#666" stroke-width="0.8"/>
<line x1="357.8" y1="136.48" x2="361.3" y2="136.48" stroke="#555" stroke-width="1"/>
<text x="355" y="139.68" text-anchor="end" font-size="9" fill="#555" letter-spacing="-0.4" stroke="#555" stroke-width="0.12">1000</text>
<line x1="359.5" y1="120.09" x2="361.3" y2="120.09" stroke="#666" stroke-width="0.8"/>
<line x1="357.8" y1="103.70" x2="361.3" y2="103.70" stroke="#555" stroke-width="1"/>
<text x="355" y="106.90" text-anchor="end" font-size="9" fill="#555" letter-spacing="-0.4" stroke="#555" stroke-width="0.12">1500</text>
<line x1="359.5" y1="87.30" x2="361.3" y2="87.30" stroke="#666" stroke-width="0.8"/>
<line x1="357.8" y1="70.91" x2="361.3" y2="70.91" stroke="#555" stroke-width="1"/>
<text x="355" y="74.11" text-anchor="end" font-size="9" fill="#555" letter-spacing="-0.4" stroke="#555" stroke-width="0.12">2000</text>
<line x1="359.5" y1="54.52" x2="361.3" y2="54.52" stroke="#666" stroke-width="0.8"/>
<line x1="357.8" y1="38.12" x2="361.3" y2="38.12" stroke="#555" stroke-width="1"/>
<text x="355" y="41.33" text-anchor="end" font-size="9" fill="#555" letter-spacing="-0.4" stroke="#555" stroke-width="0.12">2500</text>
<line x1="359.5" y1="21.73" x2="361.3" y2="21.73" stroke="#666" stroke-width="0.8"/>
<line x1="357.8" y1="5.34" x2="361.3" y2="5.34" stroke="#555" stroke-width="1"/>
<text x="355" y="8.54" text-anchor="end" font-size="9" fill="#555" letter-spacing="-0.4" stroke="#555" stroke-width="0.12">3000</text>
<line x1="377.60" y1="202.1" x2="377.60" y2="205.6" stroke="#444" stroke-width="1"/>
<line x1="377.60" y1="5.3" x2="377.60" y2="8.7" stroke="#444" stroke-width="1"/>
<text x="377.80" y="215.8" text-anchor="middle" font-size="9" fill="#444" stroke="#444" stroke-width="0.15" letter-spacing="-0.4">0</text>
<line x1="393.80" y1="202.1" x2="393.80" y2="204" stroke="#444" stroke-width="0.8"/>
<line x1="393.80" y1="5.3" x2="393.80" y2="7.2" stroke="#444" stroke-width="0.8"/>
<line x1="410.00" y1="202.1" x2="410.00" y2="205.6" stroke="#444" stroke-width="1"/>
<line x1="410.00" y1="5.3" x2="410.00" y2="8.7" stroke="#444" stroke-width="1"/>
<text x="410.20" y="215.8" text-anchor="middle" font-size="9" fill="#444" stroke="#444" stroke-width="0.15" letter-spacing="-0.4">50</text>
<line x1="426.20" y1="202.1" x2="426.20" y2="204" stroke="#444" stroke-width="0.8"/>
<line x1="426.20" y1="5.3" x2="426.20" y2="7.2" stroke="#444" stroke-width="0.8"/>
<line x1="442.40" y1="202.1" x2="442.40" y2="205.6" stroke="#444" stroke-width="1"/>
<line x1="442.40" y1="5.3" x2="442.40" y2="8.7" stroke="#444" stroke-width="1"/>
<text x="442.60" y="215.8" text-anchor="middle" font-size="9" fill="#444" stroke="#444" stroke-width="0.15" letter-spacing="-0.4">100</text>
<line x1="458.60" y1="202.1" x2="458.60" y2="204" stroke="#444" stroke-width="0.8"/>
<line x1="458.60" y1="5.3" x2="458.60" y2="7.2" stroke="#444" stroke-width="0.8"/>
<line x1="474.80" y1="202.1" x2="474.80" y2="205.6" stroke="#444" stroke-width="1"/>
<line x1="474.80" y1="5.3" x2="474.80" y2="8.7" stroke="#444" stroke-width="1"/>
<text x="475.00" y="215.8" text-anchor="middle" font-size="9" fill="#444" stroke="#444" stroke-width="0.15" letter-spacing="-0.4">150</text>
<line x1="491.00" y1="202.1" x2="491.00" y2="204" stroke="#444" stroke-width="0.8"/>
<line x1="491.00" y1="5.3" x2="491.00" y2="7.2" stroke="#444" stroke-width="0.8"/>
<line x1="507.20" y1="202.1" x2="507.20" y2="205.6" stroke="#444" stroke-width="1"/>
<line x1="507.20" y1="5.3" x2="507.20" y2="8.7" stroke="#444" stroke-width="1"/>
<text x="507.40" y="215.8" text-anchor="middle" font-size="9" fill="#444" stroke="#444" stroke-width="0.15" letter-spacing="-0.4">200</text>
<line x1="523.40" y1="202.1" x2="523.40" y2="204" stroke="#444" stroke-width="0.8"/>
<line x1="523.40" y1="5.3" x2="523.40" y2="7.2" stroke="#444" stroke-width="0.8"/>
<line x1="539.60" y1="202.1" x2="539.60" y2="205.6" stroke="#444" stroke-width="1"/>
<line x1="539.60" y1="5.3" x2="539.60" y2="8.7" stroke="#444" stroke-width="1"/>
<text x="539.80" y="215.8" text-anchor="middle" font-size="9" fill="#444" stroke="#444" stroke-width="0.15" letter-spacing="-0.4">250</text>
<line x1="555.80" y1="202.1" x2="555.80" y2="204" stroke="#444" stroke-width="0.8"/>
<line x1="555.80" y1="5.3" x2="555.80" y2="7.2" stroke="#444" stroke-width="0.8"/>
<line x1="572.00" y1="202.1" x2="572.00" y2="205.6" stroke="#444" stroke-width="1"/>
<line x1="572.00" y1="5.3" x2="572.00" y2="8.7" stroke="#444" stroke-width="1"/>
<text x="572.20" y="215.8" text-anchor="middle" font-size="9" fill="#444" stroke="#444" stroke-width="0.15" letter-spacing="-0.4">300</text>
<line x1="588.20" y1="202.1" x2="588.20" y2="204" stroke="#444" stroke-width="0.8"/>
<line x1="588.20" y1="5.3" x2="588.20" y2="7.2" stroke="#444" stroke-width="0.8"/>
<line x1="604.40" y1="202.1" x2="604.40" y2="205.6" stroke="#444" stroke-width="1"/>
<text x="604.60" y="215.8" text-anchor="middle" font-size="9" fill="#444" stroke="#444" stroke-width="0.15" letter-spacing="-0.4">350</text>
<line x1="605.0" y1="189.15" x2="609" y2="189.15" stroke="#f04848" stroke-width="1"/>
<text x="611.8" y="192.75" font-size="9" fill="#f04646" stroke="#f04646" stroke-width="0.1">5</text>
<line x1="605.0" y1="201.47" x2="607" y2="201.47" stroke="#f04848" stroke-width="0.8"/>
<line x1="605.0" y1="164.50" x2="609" y2="164.50" stroke="#f04848" stroke-width="1"/>
<text x="611.8" y="168.10" font-size="9" fill="#f04646" stroke="#f04646" stroke-width="0.1">10</text>
<line x1="605.0" y1="176.82" x2="607" y2="176.82" stroke="#f04848" stroke-width="0.8"/>
<line x1="605.0" y1="139.85" x2="609" y2="139.85" stroke="#f04848" stroke-width="1"/>
<text x="611.8" y="143.45" font-size="9" fill="#f04646" stroke="#f04646" stroke-width="0.1">15</text>
<line x1="605.0" y1="152.17" x2="607" y2="152.17" stroke="#f04848" stroke-width="0.8"/>
<line x1="605.0" y1="115.20" x2="609" y2="115.20" stroke="#f04848" stroke-width="1"/>
<text x="611.8" y="118.80" font-size="9" fill="#f04646" stroke="#f04646" stroke-width="0.1">20</text>
<line x1="605.0" y1="127.53" x2="607" y2="127.53" stroke="#f04848" stroke-width="0.8"/>
<line x1="605.0" y1="90.55" x2="609" y2="90.55" stroke="#f04848" stroke-width="1"/>
<text x="611.8" y="94.15" font-size="9" fill="#f04646" stroke="#f04646" stroke-width="0.1">25</text>
<line x1="605.0" y1="102.88" x2="607" y2="102.88" stroke="#f04848" stroke-width="0.8"/>
<line x1="605.0" y1="65.90" x2="609" y2="65.90" stroke="#f04848" stroke-width="1"/>
<text x="611.8" y="69.50" font-size="9" fill="#f04646" stroke="#f04646" stroke-width="0.1">30</text>
<line x1="605.0" y1="78.22" x2="607" y2="78.22" stroke="#f04848" stroke-width="0.8"/>
<line x1="605.0" y1="41.25" x2="609" y2="41.25" stroke="#f04848" stroke-width="1"/>
<text x="611.8" y="44.85" font-size="9" fill="#f04646" stroke="#f04646" stroke-width="0.1">35</text>
<line x1="605.0" y1="53.57" x2="607" y2="53.57" stroke="#f04848" stroke-width="0.8"/>
<line x1="605.0" y1="16.60" x2="609" y2="16.60" stroke="#f04848" stroke-width="1"/>
<text x="611.8" y="20.20" font-size="9" fill="#f04646" stroke="#f04646" stroke-width="0.1">40</text>
<line x1="605.0" y1="28.93" x2="607" y2="28.93" stroke="#f04848" stroke-width="0.8"/>
<text x="483.3" y="231.5" text-anchor="middle" font-size="10" fill="#333" stroke="#333" stroke-width="0.25">t (min)</text>
<text transform="translate(329.4,102.5) rotate(-90)" text-anchor="middle" font-size="10.4" fill="#222" stroke="#222" stroke-width="0.15">ppm NH<tspan font-size="6.8" dy="2.2">3</tspan></text>
<text transform="translate(634.8,103.5) rotate(-90)" text-anchor="middle" font-size="10.4" fill="#e81818" stroke="#e81818" stroke-width="0.2">ppm NO<tspan font-size="6.8" dy="2.2">3</tspan><tspan font-size="6.8" dy="-6.5">-</tspan></text>
<text x="365" y="198.3" font-size="12.5" fill="#111" stroke="#111" stroke-width="0.2">(b)</text>
<path d="M377.9,67.2 V86.6 M375.4,67.2 H380.4 M375.4,86.6 H380.4" stroke="#888" stroke-width="0.8" fill="none"/>
<path d="M397.2,75.5 V90.2 M394.7,75.5 H399.7 M394.7,90.2 H399.7" stroke="#888" stroke-width="0.8" fill="none"/>
<path d="M416.9,81.0 V100.2 M414.4,81.0 H419.4 M414.4,100.2 H419.4" stroke="#888" stroke-width="0.8" fill="none"/>
<path d="M436.7,86.5 V100.4 M434.2,86.5 H439.2 M434.2,100.4 H439.2" stroke="#888" stroke-width="0.8" fill="none"/>
<path d="M444.0,94.2 V109.5 M441.5,94.2 H446.5 M441.5,109.5 H446.5" stroke="#888" stroke-width="0.8" fill="none"/>
<path d="M455.5,96.3 V119.0 M453.0,96.3 H458.0 M453.0,119.0 H458.0" stroke="#888" stroke-width="0.8" fill="none"/>
<path d="M475.1,114.4 V129.0 M472.6,114.4 H477.6 M472.6,129.0 H477.6" stroke="#888" stroke-width="0.8" fill="none"/>
<path d="M494.7,120.3 V136.0 M492.2,120.3 H497.2 M492.2,136.0 H497.2" stroke="#888" stroke-width="0.8" fill="none"/>
<path d="M514.5,128.0 V140.5 M512.0,128.0 H517.0 M512.0,140.5 H517.0" stroke="#888" stroke-width="0.8" fill="none"/>
<path d="M533.8,134.3 V144.5 M531.3,134.3 H536.3 M531.3,144.5 H536.3" stroke="#888" stroke-width="0.8" fill="none"/>
<path d="M553.8,152.5 V166.5 M551.3,152.5 H556.3 M551.3,166.5 H556.3" stroke="#888" stroke-width="0.8" fill="none"/>
<path d="M578.9,171.6 V185.4 M576.4,171.6 H581.4 M576.4,185.4 H581.4" stroke="#888" stroke-width="0.8" fill="none"/>
<path d="M377.9,41.8 V73.8 M375.4,41.8 H380.4 M375.4,73.8 H380.4" stroke="#f37070" stroke-width="0.8" fill="none"/>
<path d="M397.2,108.0 V139.6 M394.7,108.0 H399.7 M394.7,139.6 H399.7" stroke="#f37070" stroke-width="0.8" fill="none"/>
<path d="M417.0,133.2 V156.1 M414.5,133.2 H419.5 M414.5,156.1 H419.5" stroke="#f37070" stroke-width="0.8" fill="none"/>
<path d="M436.5,121.1 V145.4 M434.0,121.1 H439.0 M434.0,145.4 H439.0" stroke="#f37070" stroke-width="0.8" fill="none"/>
<path d="M444.0,86.4 V122.0 M441.5,86.4 H446.5 M441.5,122.0 H446.5" stroke="#f37070" stroke-width="0.8" fill="none"/>
<path d="M455.5,86.7 V120.0 M453.0,86.7 H458.0 M453.0,120.0 H458.0" stroke="#f37070" stroke-width="0.8" fill="none"/>
<path d="M475.1,106.5 V129.0 M472.6,106.5 H477.6 M472.6,129.0 H477.6" stroke="#f37070" stroke-width="0.8" fill="none"/>
<path d="M494.7,130.5 V146.0 M492.2,130.5 H497.2 M492.2,146.0 H497.2" stroke="#f37070" stroke-width="0.8" fill="none"/>
<path d="M514.5,135.3 V154.9 M512.0,135.3 H517.0 M512.0,154.9 H517.0" stroke="#f37070" stroke-width="0.8" fill="none"/>
<path d="M533.8,120.2 V132.0 M531.3,120.2 H536.3 M531.3,132.0 H536.3" stroke="#f37070" stroke-width="0.8" fill="none"/>
<path d="M553.8,152.1 V166.2 M551.3,152.1 H556.3 M551.3,166.2 H556.3" stroke="#f37070" stroke-width="0.8" fill="none"/>
<path d="M578.9,157.5 V171.6 M576.4,157.5 H581.4 M576.4,171.6 H581.4" stroke="#f37070" stroke-width="0.8" fill="none"/>
<polyline points="377.9,77.5 397.2,83.0 416.9,90.5 436.7,93.5 444.0,101.8 455.5,108.0 475.1,121.9 494.7,128.6 514.5,134.7 533.8,139.6 553.8,159.8 578.9,178.9" fill="none" stroke="#444" stroke-width="1.1"/>
<polyline points="377.9,58.0 397.2,123.8 417.0,144.7 436.5,133.2 444.0,104.0 455.5,103.2 475.1,118.2 494.7,138.6 514.5,144.7 533.8,126.3 553.8,159.0 578.9,164.3" fill="none" stroke="#f23a3a" stroke-width="0.95"/>
<circle cx="377.9" cy="77.5" r="2.4" fill="#3c3c3c"/>
<circle cx="397.2" cy="83.0" r="2.4" fill="#3c3c3c"/>
<circle cx="416.9" cy="90.5" r="2.4" fill="#3c3c3c"/>
<circle cx="436.7" cy="93.5" r="2.4" fill="#3c3c3c"/>
<circle cx="444.0" cy="101.8" r="2.4" fill="#3c3c3c"/>
<circle cx="455.5" cy="108.0" r="2.4" fill="#3c3c3c"/>
<circle cx="475.1" cy="121.9" r="2.4" fill="#3c3c3c"/>
<circle cx="494.7" cy="128.6" r="2.4" fill="#3c3c3c"/>
<circle cx="514.5" cy="134.7" r="2.4" fill="#3c3c3c"/>
<circle cx="533.8" cy="139.6" r="2.4" fill="#3c3c3c"/>
<circle cx="553.8" cy="159.8" r="2.4" fill="#3c3c3c"/>
<circle cx="578.9" cy="178.9" r="2.4" fill="#3c3c3c"/>
<polygon points="377.9,55.3 380.59999999999997,58.0 377.9,60.7 375.2,58.0" fill="#f02a2a"/>
<polygon points="397.2,121.1 399.9,123.8 397.2,126.5 394.5,123.8" fill="#f02a2a"/>
<polygon points="417.0,142.0 419.7,144.7 417.0,147.39999999999998 414.3,144.7" fill="#f02a2a"/>
<polygon points="436.5,130.5 439.2,133.2 436.5,135.89999999999998 433.8,133.2" fill="#f02a2a"/>
<polygon points="444.0,101.3 446.7,104.0 444.0,106.7 441.3,104.0" fill="#f02a2a"/>
<polygon points="455.5,100.5 458.2,103.2 455.5,105.9 452.8,103.2" fill="#f02a2a"/>
<polygon points="475.1,115.5 477.8,118.2 475.1,120.9 472.40000000000003,118.2" fill="#f02a2a"/>
<polygon points="494.7,135.9 497.4,138.6 494.7,141.29999999999998 492.0,138.6" fill="#f02a2a"/>
<polygon points="514.5,142.0 517.2,144.7 514.5,147.39999999999998 511.8,144.7" fill="#f02a2a"/>
<polygon points="533.8,123.6 536.5,126.3 533.8,129.0 531.0999999999999,126.3" fill="#f02a2a"/>
<polygon points="553.8,156.3 556.5,159.0 553.8,161.7 551.0999999999999,159.0" fill="#f02a2a"/>
<polygon points="578.9,161.60000000000002 581.6,164.3 578.9,167.0 576.1999999999999,164.3" fill="#f02a2a"/>
<line x1="406" y1="98.2" x2="429" y2="98.2" stroke="#111" stroke-width="1.5"/>
<polygon points="402.7,98.2 408,95.6 408,100.8" fill="#111"/>
<line x1="426" y1="152.5" x2="447" y2="152.5" stroke="#f01818" stroke-width="1.5"/>
<polygon points="450.5,152.5 445.5,150 445.5,155" fill="#f01818"/>
<line x1="459.6" y1="184.1" x2="474" y2="184.1" stroke="#444" stroke-width="1"/>
<circle cx="466.6" cy="184.1" r="2.1" fill="#3c3c3c"/>
<text x="476" y="186.3" font-size="6.7" fill="#333" stroke="#333" stroke-width="0.12">ppm NH<tspan font-size="4.8" dy="2">3</tspan></text>
<line x1="459.6" y1="194.3" x2="474" y2="194.3" stroke="#f02828" stroke-width="1"/>
<polygon points="466.6,191.5 469.4,194.3 466.6,197.1 463.8,194.3" fill="#f02a2a"/>
<text x="476" y="196.8" font-size="6.7" fill="#333" stroke="#333" stroke-width="0.12">ppm NO<tspan font-size="4.8" dy="2">3</tspan><tspan font-size="4.8" dy="-5">-</tspan></text>
<rect x="434.0" y="15.9" width="67.80000000000001" height="52.9" fill="#fff" stroke="#111" stroke-width="1.1"/>
<line x1="434.0" y1="15.90" x2="436.0" y2="15.90" stroke="#111" stroke-width="0.7"/>
<text x="428.7" y="18.00" text-anchor="end" font-size="5.8" fill="#222">1</text>
<line x1="434.0" y1="29.12" x2="436.0" y2="29.12" stroke="#111" stroke-width="0.7"/>
<text x="428.7" y="31.23" text-anchor="end" font-size="5.8" fill="#222">-1</text>
<line x1="434.0" y1="42.35" x2="436.0" y2="42.35" stroke="#111" stroke-width="0.7"/>
<text x="428.7" y="44.45" text-anchor="end" font-size="5.8" fill="#222">-3</text>
<line x1="434.0" y1="55.57" x2="436.0" y2="55.57" stroke="#111" stroke-width="0.7"/>
<text x="428.7" y="57.67" text-anchor="end" font-size="5.8" fill="#222">-5</text>
<line x1="434.0" y1="68.80" x2="436.0" y2="68.80" stroke="#111" stroke-width="0.7"/>
<text x="428.7" y="70.90" text-anchor="end" font-size="5.8" fill="#222">-7</text>
<line x1="434.00" y1="68.8" x2="434.00" y2="66.8" stroke="#111" stroke-width="0.7"/>
<text x="434.00" y="76.8" text-anchor="middle" font-size="5.8" fill="#222">-1.2</text>
<line x1="450.95" y1="68.8" x2="450.95" y2="66.8" stroke="#111" stroke-width="0.7"/>
<text x="450.95" y="76.8" text-anchor="middle" font-size="5.8" fill="#222">-0.9</text>
<line x1="467.90" y1="68.8" x2="467.90" y2="66.8" stroke="#111" stroke-width="0.7"/>
<text x="467.90" y="76.8" text-anchor="middle" font-size="5.8" fill="#222">-0.6</text>
<line x1="484.85" y1="68.8" x2="484.85" y2="66.8" stroke="#111" stroke-width="0.7"/>
<text x="484.85" y="76.8" text-anchor="middle" font-size="5.8" fill="#222">-0.3</text>
<line x1="501.80" y1="68.8" x2="501.80" y2="66.8" stroke="#111" stroke-width="0.7"/>
<text x="501.80" y="76.8" text-anchor="middle" font-size="5.8" fill="#222">0</text>
<text x="469.4" y="83.2" text-anchor="middle" font-size="5.45" fill="#222">E (V vs Hg/HgO)</text>
<text transform="translate(420.6,51.5) rotate(-90)" text-anchor="middle" font-size="5.8" fill="#222">i (mA/cm<tspan font-size="4" dy="-2">2</tspan><tspan dy="2">)</tspan></text>
<text x="438.5" y="23.0" font-size="5.25" fill="#000" stroke="#000" stroke-width="0.32">40 % Cu<tspan font-size="3.8" dy="1">3</tspan><tspan dy="-1">Ni/C</tspan></text>
<path d="M439.6,68.8 C442,58 446,49 450,43.5 C452,41.2 454,41.2 456,42.8 C457.2,44 457.8,45.3 458.6,45.2 C460.5,41.5 463,36.5 467,35.6 C470.5,35 472.5,38.8 475,39.6 C477.5,37.5 480,33.5 484,30.5 C489,27 496,24.5 501.8,24" fill="none" stroke="#1f9a1f" stroke-width="1.25"/>
<path d="M439.6,68.8 C442,58 446,49 450,43.5 C451.5,42 453,41.8 455,43 C456.5,44.5 457.2,47.5 458.4,47.6 C460,46.5 462,44 465,43 C468,42 471.5,41.8 474,41.2 C477,39 480,34 482.5,31 C485,28 487,23.5 489.5,22.6 L501.8,22.2" fill="none" stroke="#111" stroke-width="0.95" stroke-dasharray="2 1.1"/>
<line x1="447.6" y1="38.5" x2="458.8" y2="40.4" stroke="#1f9a1f" stroke-width="0.6"/>
<text transform="translate(437.5,43.7) rotate(-26.3)" font-size="5.35" fill="#1f9a1f" stroke="#1f9a1f" stroke-width="0.22">Presence of NH<tspan font-size="3.8" dy="1">3</tspan></text>
<line x1="470.5" y1="56.5" x2="460.5" y2="47.5" stroke="#111" stroke-width="0.65"/>
<text transform="translate(460.2,65.3) rotate(-29)" font-size="5.4" fill="#111" stroke="#111" stroke-width="0.3">Absence of NH<tspan font-size="3.8" dy="1">3</tspan></text>
<rect x="524.9" y="15.8" width="67.20000000000005" height="55.60000000000001" fill="#fff" stroke="#111" stroke-width="1.1"/>
<line x1="524.9" y1="71.40" x2="526.9" y2="71.40" stroke="#111" stroke-width="0.7"/>
<text x="521.4" y="73.50" text-anchor="end" font-size="5.8" fill="#777">0</text>
<line x1="524.9" y1="62.13" x2="526.9" y2="62.13" stroke="#111" stroke-width="0.7"/>
<text x="521.4" y="64.23" text-anchor="end" font-size="5.8" fill="#777">5</text>
<line x1="524.9" y1="52.87" x2="526.9" y2="52.87" stroke="#111" stroke-width="0.7"/>
<text x="521.4" y="54.97" text-anchor="end" font-size="5.8" fill="#777">10</text>
<line x1="524.9" y1="43.60" x2="526.9" y2="43.60" stroke="#111" stroke-width="0.7"/>
<text x="521.4" y="45.70" text-anchor="end" font-size="5.8" fill="#777">15</text>
<line x1="524.9" y1="34.33" x2="526.9" y2="34.33" stroke="#111" stroke-width="0.7"/>
<text x="521.4" y="36.43" text-anchor="end" font-size="5.8" fill="#777">20</text>
<line x1="524.9" y1="25.07" x2="526.9" y2="25.07" stroke="#111" stroke-width="0.7"/>
<text x="521.4" y="27.17" text-anchor="end" font-size="5.8" fill="#777">25</text>
<line x1="524.9" y1="15.80" x2="526.9" y2="15.80" stroke="#111" stroke-width="0.7"/>
<text x="521.4" y="17.90" text-anchor="end" font-size="5.8" fill="#777">30</text>
<line x1="524.90" y1="71.4" x2="524.90" y2="69.4" stroke="#111" stroke-width="0.7"/>
<text x="524.90" y="79.9" text-anchor="middle" font-size="5.8" fill="#222">-0.4</text>
<line x1="541.70" y1="71.4" x2="541.70" y2="69.4" stroke="#111" stroke-width="0.7"/>
<text x="541.70" y="79.9" text-anchor="middle" font-size="5.8" fill="#222">-0.2</text>
<line x1="558.50" y1="71.4" x2="558.50" y2="69.4" stroke="#111" stroke-width="0.7"/>
<text x="558.50" y="79.9" text-anchor="middle" font-size="5.8" fill="#222">0</text>
<line x1="575.30" y1="71.4" x2="575.30" y2="69.4" stroke="#111" stroke-width="0.7"/>
<text x="575.30" y="79.9" text-anchor="middle" font-size="5.8" fill="#222">0.2</text>
<line x1="592.10" y1="71.4" x2="592.10" y2="69.4" stroke="#111" stroke-width="0.7"/>
<text x="592.10" y="79.9" text-anchor="middle" font-size="5.8" fill="#222">0.4</text>
<text x="558.7" y="84.8" text-anchor="middle" font-size="5.45" fill="#222">E (V vs. Hg/HgO)</text>
<text transform="translate(512.2,47) rotate(-90)" text-anchor="middle" font-size="5.8" fill="#666">i (mA/cm<tspan font-size="4" dy="-2">2</tspan><tspan dy="2">)</tspan></text>
<text x="530" y="22.8" font-size="5.6" fill="#000" stroke="#000" stroke-width="0.32">60 % Pt<tspan font-size="3.8" dy="1">3</tspan><tspan dy="-1">Ir/C</tspan></text>
<path d="M525.2,71.4 C531,69 537,66 542,62.5 C546,59 548.5,50 551.7,36.5 C553,43 555,50 558,55 C560.5,58 565,60.5 570,61.2 C576,62 582,62.3 592,61.5" fill="none" stroke="#1f9a1f" stroke-width="1.25"/>
<path d="M525.2,71.4 C531,69 537,66 542,62.5 C546,59 549,45 554.3,26.8 C556,33 558,40 560,45 C562.5,51 565,56 569,58.8 C572,60.3 576,60.5 580,60.5 L592,60.5" fill="none" stroke="#111" stroke-width="0.95" stroke-dasharray="2 1.1"/>
<line x1="562.8" y1="34.5" x2="561" y2="41.2" stroke="#111" stroke-width="0.65"/>
<text transform="translate(559.2,30.4) rotate(40)" font-size="5.0" fill="#111" stroke="#111" stroke-width="0.3">Absence of NO<tspan font-size="3.8" dy="1">3</tspan><tspan font-size="3.8" dy="-3">-</tspan></text>
<line x1="552.8" y1="63.2" x2="560.6" y2="58.5" stroke="#1f9a1f" stroke-width="0.6"/>
<text x="542" y="67.8" font-size="5.1" fill="#1f9a1f" stroke="#1f9a1f" stroke-width="0.3">Presence of NO<tspan font-size="3.8" dy="1">3</tspan><tspan font-size="3.8" dy="-3">-</tspan></text>
</svg></body></html>
